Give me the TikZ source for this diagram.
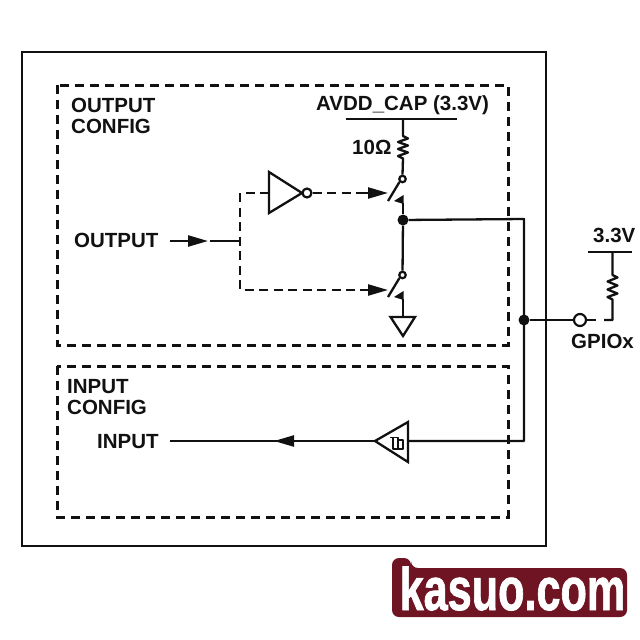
\documentclass[tikz,border=0pt]{standalone}
\usepackage{fontspec}
\setmainfont{Liberation Sans}
\newfontfamily\wmin[FakeBold=1.5]{Liberation Sans Bold}
\usetikzlibrary{arrows.meta}
\definecolor{wm}{HTML}{6E1423}
\definecolor{ink}{HTML}{111111}
\tikzset{
  x=1pt,y=-1pt,
  wire/.style={draw=ink,line width=2.3pt,line cap=butt,line join=round},
  boxline/.style={draw=ink,line width=3pt,dash pattern=on 9pt off 6pt},
  ctrl/.style={draw=ink,line width=2.7pt,dash pattern=on 9pt off 5.5pt},
  label/.style={inner sep=0pt,text=ink,font=\fontsize{20.5}{20.5}\selectfont\bfseries,anchor=base west},
  head/.style={draw=ink,line width=2.3pt,-{Triangle[length=20pt,width=11pt,fill=ink]}},
  dot/.style={circle,fill=ink,inner sep=0pt,minimum size=11pt},
  ring/.style={circle,draw=ink,fill=white,line width=2.2pt,inner sep=0pt,minimum size=#1},
  tri/.style={draw=ink,fill=white,line width=2.3pt,line join=miter},
  wmtext/.style={inner sep=0pt,anchor=base west,xscale=.72,transform shape}
}
\begin{document}
\begin{tikzpicture}
\useasboundingbox (0,0) rectangle (640,640);
\fill[white] (0,0) rectangle (640,640);
% boxes
\draw[ink,line width=2.6pt] (22,52) rectangle (546,546);
\draw[boxline] (57,85) rectangle (508,345);
\draw[boxline] (57,366) rectangle (508,517);
% labels
\node[label] (lo1) at (71,112) {OUTPUT};
\node[label] (lo2) at (71,133) {CONFIG};
\node[label] (lo3) at (74,247) {OUTPUT};
\node[label] (li1) at (67,393) {INPUT};
\node[label] (li2) at (67,414) {CONFIG};
\node[label] (li3) at (97,448) {INPUT};
\node[label] (lavdd) at (316,110) {AVDD\_CAP (3.3V)};
\node[label] (lohm) at (352,154) {10Ω};
\node[label] (l33) at (593,242) {3.3V};
\node[label] (lgpio) at (571,348) {GPIOx};
% named points
\coordinate (railL) at (346,119);
\coordinate (railR) at (457,119);
\coordinate (railM) at (403,119);
\coordinate (r1top) at (403,133);
\coordinate (r2top) at (612.5,273);
\coordinate (vddL) at (588,252);
\coordinate (vddR) at (632,252);
\coordinate (vddM) at (612.5,252);
\node[dot] (mid) at (403,220) {};
\node[dot] (junc) at (524,320) {};
\node[ring=6.5pt] (sw1) at (402.5,179) {};
\node[ring=6.5pt] (sw2) at (402.5,275) {};
\coordinate (b1) at (388,201);
\coordinate (b2) at (388,297);
\coordinate (c1) at (403,203);
\coordinate (c2) at (403,299);
\coordinate (fork) at (240,241);
\coordinate (corner1) at (240,193);
\coordinate (corner2) at (240,290);
\coordinate (turn1) at (524,219);
\coordinate (turn2) at (524,441);
\coordinate (inEnd) at (170,441);
% rails
\draw[wire,line width=2.8pt] (railL) -- (railR);
\draw[wire,line width=2.8pt] (vddL) -- (vddR);
% upper resistor
\draw[wire] (railM) -- (r1top) -- ++(0,3) -- ++(5,2.5) -- ++(-10,3.5) -- ++(10,3.5) -- ++(-10,3.5) -- ++(10,3.5) -- ++(-10,3.5) -- ++(5,2.5) -- (sw1.north);
% switches
\draw[wire] (sw1.south west) -- (b1);
\draw[wire] (sw2.south west) -- (b2);
\fill[ink] (403.5,195) -- (403.5,204) -- (394,201) -- cycle;
\fill[ink] (403.5,291) -- (403.5,300) -- (394,297) -- cycle;
\draw[wire] (c1) -- (mid);
\draw[wire] (mid) -- (sw2);
% ground
\coordinate (gndT) at (403,317);
\draw[wire] (c2) -- (gndT);
\draw[tri] (390.5,317) -- (415,317) -- (403,336) -- cycle;
% inverter
\node[ring=9pt] (invo) at (307,193) {};
\draw[tri] (269,172) -- (269,213) -- (302,193) -- cycle;
\coordinate (invIn) at (269,193);
\coordinate (a1s) at (360,193);
\coordinate (a1e) at (388,193);
\coordinate (a2s) at (360,290);
\coordinate (a2e) at (388,290);
\draw[ctrl] (invo.east) -- (a1s);
\draw[ctrl] (invIn) -- (corner1) -- (corner2) -- (a2s);
\draw[head] (a1s) -- (a1e);
\draw[head] (a2s) -- (a2e);
% output input wire
\coordinate (os) at (170,241);
\coordinate (oe) at (208,241);
\coordinate (os2) at (210,241);
\draw[head] (os) -- (oe);
\draw[wire] (os2) -- (fork);
% output node wire
\draw[wire] (mid) -- (turn1) -- (turn2) -- (408,441);
% schmitt buffer
\draw[tri] (408,422) -- (408,462) -- (375,441) -- cycle;
\draw[wire,line width=1.8pt] (390,437.5) -- (398,437.5) -- (398,449) (393,437.5) -- (393,449) -- (403,449) -- (403,440) -- (398,440);
% input wire with arrow
\coordinate (ia) at (294,441);
\coordinate (ib) at (274,441);
\draw[wire] (375,441) -- (inEnd);
\draw[head] (ia) -- (ib);
% GPIO
\node[ring=12pt] (pad) at (580,320) {};
\coordinate (gap1) at (596,320);
\coordinate (gap2) at (604,320);
\coordinate (gnd2) at (612.5,320);
\draw[wire] (junc) -- (pad);
\draw[wire] (pad.east) -- (gap1);
\draw[wire] (vddM) -- (r2top) -- ++(0,2) -- ++(5,2.5) -- ++(-10,4) -- ++(10,4) -- ++(-10,4) -- ++(10,4) -- ++(-10,3.5) -- ++(5,2.5) -- (gnd2) -- (gap2);
% watermark
\fill[wm,rounded corners=7pt] (392,617) -- (392,558) -- (411,558) -- (411,568) -- (627,568) -- (627,617) -- cycle;
\node[wmtext,text=white,font=\fontsize{60}{60}\wmin] (wmark) at (399.5,610) {kasuo.com};
\end{tikzpicture}
\end{document}
